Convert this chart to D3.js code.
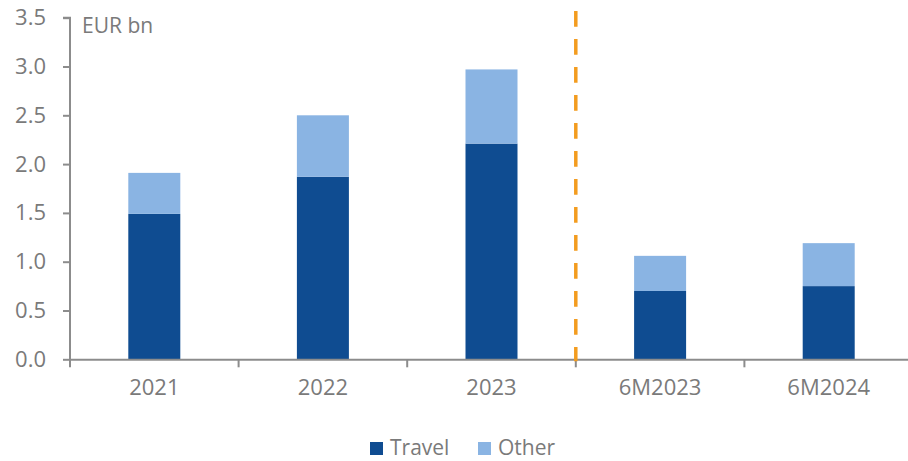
<!DOCTYPE html>
<meta charset="utf-8">
<head>
	<script type="text/javascript" src="https://cdn.jsdelivr.net/npm/d3@7"></script>
	<style>
		body { margin: 0; background: #fff; }
		text { font-family: "Open Sans", sans-serif; fill: #7a7a7a; }
	</style>
</head>
<body>
	<svg id="chart" width="908" height="461"></svg>
</body>
<script type="text/javascript">
	// data (EUR bn)
	var categories = ["2021", "2022", "2023", "6M2023", "6M2024"];
	var travel = [1.49, 1.87, 2.21, 0.70, 0.75];
	var other = [0.42, 0.63, 0.76, 0.36, 0.44];
	var yTicks = [0, 0.5, 1.0, 1.5, 2.0, 2.5, 3.0, 3.5];
	var seriesNames = ["Travel", "Other"];
	var colors = ["#0f4c91", "#8ab4e3"];

	var svg = d3.select("#chart");
	var left = 70, y0 = 359.3, yTop = 17.7;

	var x = d3.scaleBand().domain(categories).range([left, left + 5 * 168.6]);
	var y = d3.scaleLinear().domain([0, 3.5]).range([y0, yTop]);
	var barW = 52;

	var rows = categories.map(function(c, i) {
		return { cat: c, Travel: travel[i], Other: other[i] };
	});
	var stack = d3.stack().keys(seriesNames)(rows);

	// bars
	svg.selectAll("g.series")
		.data(stack)
		.enter().append("g")
		.attr("class", "series")
		.attr("fill", function(d, i) { return colors[i]; })
		.selectAll("rect")
		.data(function(d) { return d; })
		.enter().append("rect")
		.attr("x", function(d) { return x(d.data.cat) + x.bandwidth() / 2 - barW / 2; })
		.attr("width", barW)
		.attr("y", function(d) { return y(d[1]); })
		.attr("height", function(d) { return y(d[0]) - y(d[1]); });

	// y axis
	var yAxis = svg.append("g")
		.attr("transform", "translate(" + left + ",0)")
		.call(d3.axisLeft(y).tickValues(yTicks).tickFormat(d3.format(".1f")).tickSize(7).tickPadding(17));
	yAxis.select(".domain").attr("stroke", "#8c8c8c").attr("stroke-width", 2)
		.attr("d", "M-7," + yTop + "H0V" + (y0 + 8));
	yAxis.selectAll(".tick line").attr("stroke", "#8c8c8c").attr("stroke-width", 2);
	yAxis.selectAll(".tick text").style("font-size", "22px").style("fill", "#7a7a7a");

	// x axis
	var xAxis = svg.append("g")
		.attr("transform", "translate(0," + y0 + ")")
		.call(d3.axisBottom(x).tickSize(0).tickPadding(20));
	xAxis.select(".domain").attr("stroke", "#8c8c8c").attr("stroke-width", 2);
	xAxis.selectAll(".tick text").style("font-size", "22px").style("fill", "#7a7a7a");
	// category separators
	xAxis.selectAll("line.sep")
		.data(categories.slice(1))
		.enter().append("line")
		.attr("class", "sep")
		.attr("x1", function(d) { return x(d); })
		.attr("x2", function(d) { return x(d); })
		.attr("y1", 0).attr("y2", 8)
		.attr("stroke", "#8c8c8c").attr("stroke-width", 2);

	// dashed divider before the half-year figures
	svg.append("line")
		.attr("x1", x("6M2023")).attr("x2", x("6M2023"))
		.attr("y1", 11).attr("y2", y0 + 2)
		.attr("stroke", "#f39c1f").attr("stroke-width", 3.5)
		.attr("stroke-dasharray", "15.7,12.3");

	svg.append("text")
		.attr("x", 82).attr("y", 33)
		.style("font-size", "21px")
		.text("EUR bn");

	// legend
	var legendX = [370, 478];
	var legend = svg.selectAll("g.legend")
		.data(seriesNames)
		.enter().append("g")
		.attr("class", "legend")
		.attr("transform", function(d, i) { return "translate(" + legendX[i] + ",442)"; });
	legend.append("rect")
		.attr("width", 13).attr("height", 13)
		.attr("fill", function(d, i) { return colors[i]; });
	legend.append("text")
		.attr("x", 20).attr("y", 13)
		.style("font-size", "21px")
		.text(function(d) { return d; });
</script>
